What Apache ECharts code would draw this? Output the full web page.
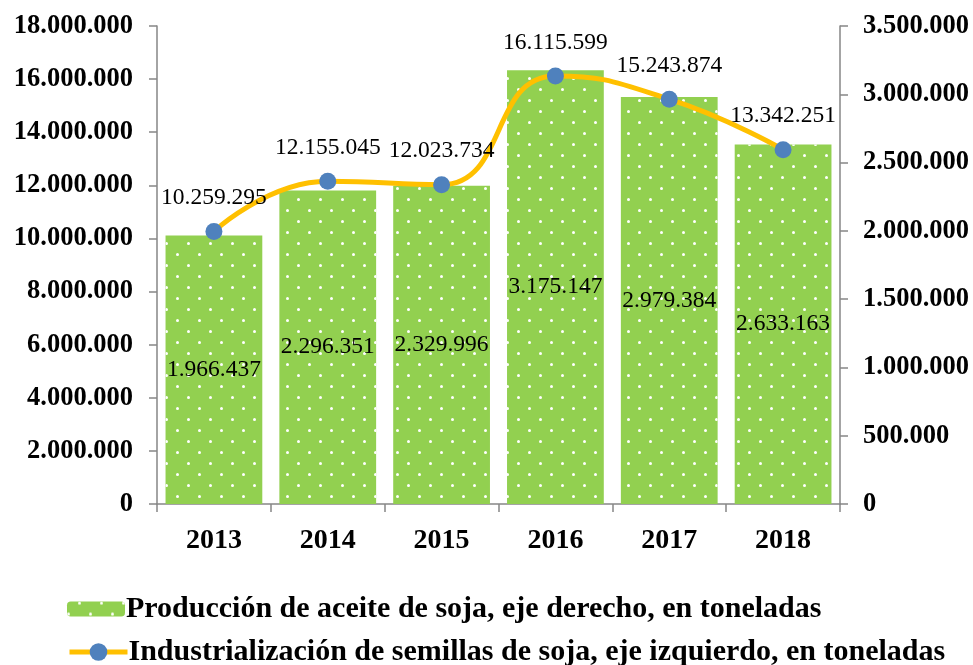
<!DOCTYPE html>
<html>
<head>
<meta charset="UTF-8">
<title></title>
<script src="https://cdn.jsdelivr.net/npm/echarts@6/dist/echarts.min.js"></script>
<style>
  html, body { margin: 0; padding: 0; background: #fff; }
  #chart { width: 973px; height: 665px; }
</style>
</head>
<body>
<div id="chart"></div>
<script>
// datos
var years = ['2013', '2014', '2015', '2016', '2017', '2018'];
var aceite = [1966437, 2296351, 2329996, 3175147, 2979384, 2633163];      // eje derecho
var semillas = [10259295, 12155045, 12023734, 16115599, 15243874, 13342251]; // eje izquierdo
var nombreAceite = 'Producción de aceite de soja, eje derecho, en toneladas';
var nombreSemillas = 'Industrialización de semillas de soja, eje izquierdo, en toneladas';

function puntos(v) {
  return String(v).replace(/\B(?=(\d{3})+(?!\d))/g, '.');
}

var fuente = '"Liberation Serif", "Times New Roman", serif';
var gris = '#868686';
var textoLeyenda = { fontFamily: fuente, fontSize: 30, fontWeight: 'bold', color: '#000', padding: [0, 0, 0, -4] };

var myChart = echarts.init(document.getElementById('chart'));
myChart.setOption({
  backgroundColor: '#fff',
  animation: false,
  textStyle: { fontFamily: fuente, color: '#000' },
  grid: { left: 157, right: 133, top: 26, bottom: 161 },
  legend: [{
    left: 62,
    top: 589,
    itemWidth: 58,
    itemHeight: 15,
    textStyle: textoLeyenda,
    data: [nombreAceite]
  }, {
    left: 62,
    top: 632,
    itemWidth: 58,
    itemHeight: 22,
    textStyle: textoLeyenda,
    data: [{ name: nombreSemillas, lineStyle: { width: 5, color: '#FFC000' } }]
  }],
  xAxis: {
    type: 'category',
    data: years,
    axisLine: { lineStyle: { color: gris, width: 1.5 } },
    axisTick: { show: true, length: 8, lineStyle: { color: gris, width: 1.5 } },
    axisLabel: { fontFamily: fuente, fontSize: 28, fontWeight: 'bold', color: '#000', margin: 23 }
  },
  yAxis: [{
    type: 'value',
    min: 0,
    max: 18000000,
    interval: 2000000,
    position: 'left',
    splitLine: { show: false },
    axisLine: { show: true, lineStyle: { color: gris, width: 1.5 } },
    axisTick: { show: true, length: 8, lineStyle: { color: gris, width: 1.5 } },
    axisLabel: { fontFamily: fuente, fontSize: 26.5, fontWeight: 'bold', color: '#000', margin: 24, formatter: puntos }
  }, {
    type: 'value',
    min: 0,
    max: 3500000,
    interval: 500000,
    position: 'right',
    splitLine: { show: false },
    axisLine: { show: true, lineStyle: { color: gris, width: 1.5 } },
    axisTick: { show: true, length: 8, lineStyle: { color: gris, width: 1.5 } },
    axisLabel: { fontFamily: fuente, fontSize: 26.5, fontWeight: 'bold', color: '#000', margin: 23, formatter: puntos }
  }],
  series: [{
    name: nombreAceite,
    type: 'bar',
    yAxisIndex: 1,
    data: aceite,
    barWidth: '85%',
    itemStyle: {
      color: '#92D050',
      decal: {
        symbol: 'circle',
        symbolSize: 1,
        color: '#ffffff',
        dashArrayX: [[3, 19], [0, 11, 3, 8]],
        dashArrayY: [3, 8],
        rotation: 0
      }
    },
    label: {
      show: true,
      position: 'inside',
      fontFamily: fuente,
      fontSize: 23.5,
      color: '#000',
      formatter: function (p) { return puntos(p.value); }
    },
    z: 2
  }, {
    name: nombreSemillas,
    type: 'line',
    yAxisIndex: 0,
    data: semillas,
    smooth: 0.5,
    symbol: 'circle',
    symbolSize: 17,
    lineStyle: { color: '#FFC000', width: 5 },
    itemStyle: { color: '#4F81BD' },
    label: {
      show: true,
      position: 'top',
      distance: 13,
      fontFamily: fuente,
      fontSize: 23.5,
      color: '#000',
      formatter: function (p) { return puntos(p.value); }
    },
    z: 5
  }]
});
window.onresize = function () { myChart.resize(); };
</script>
</body>
</html>
